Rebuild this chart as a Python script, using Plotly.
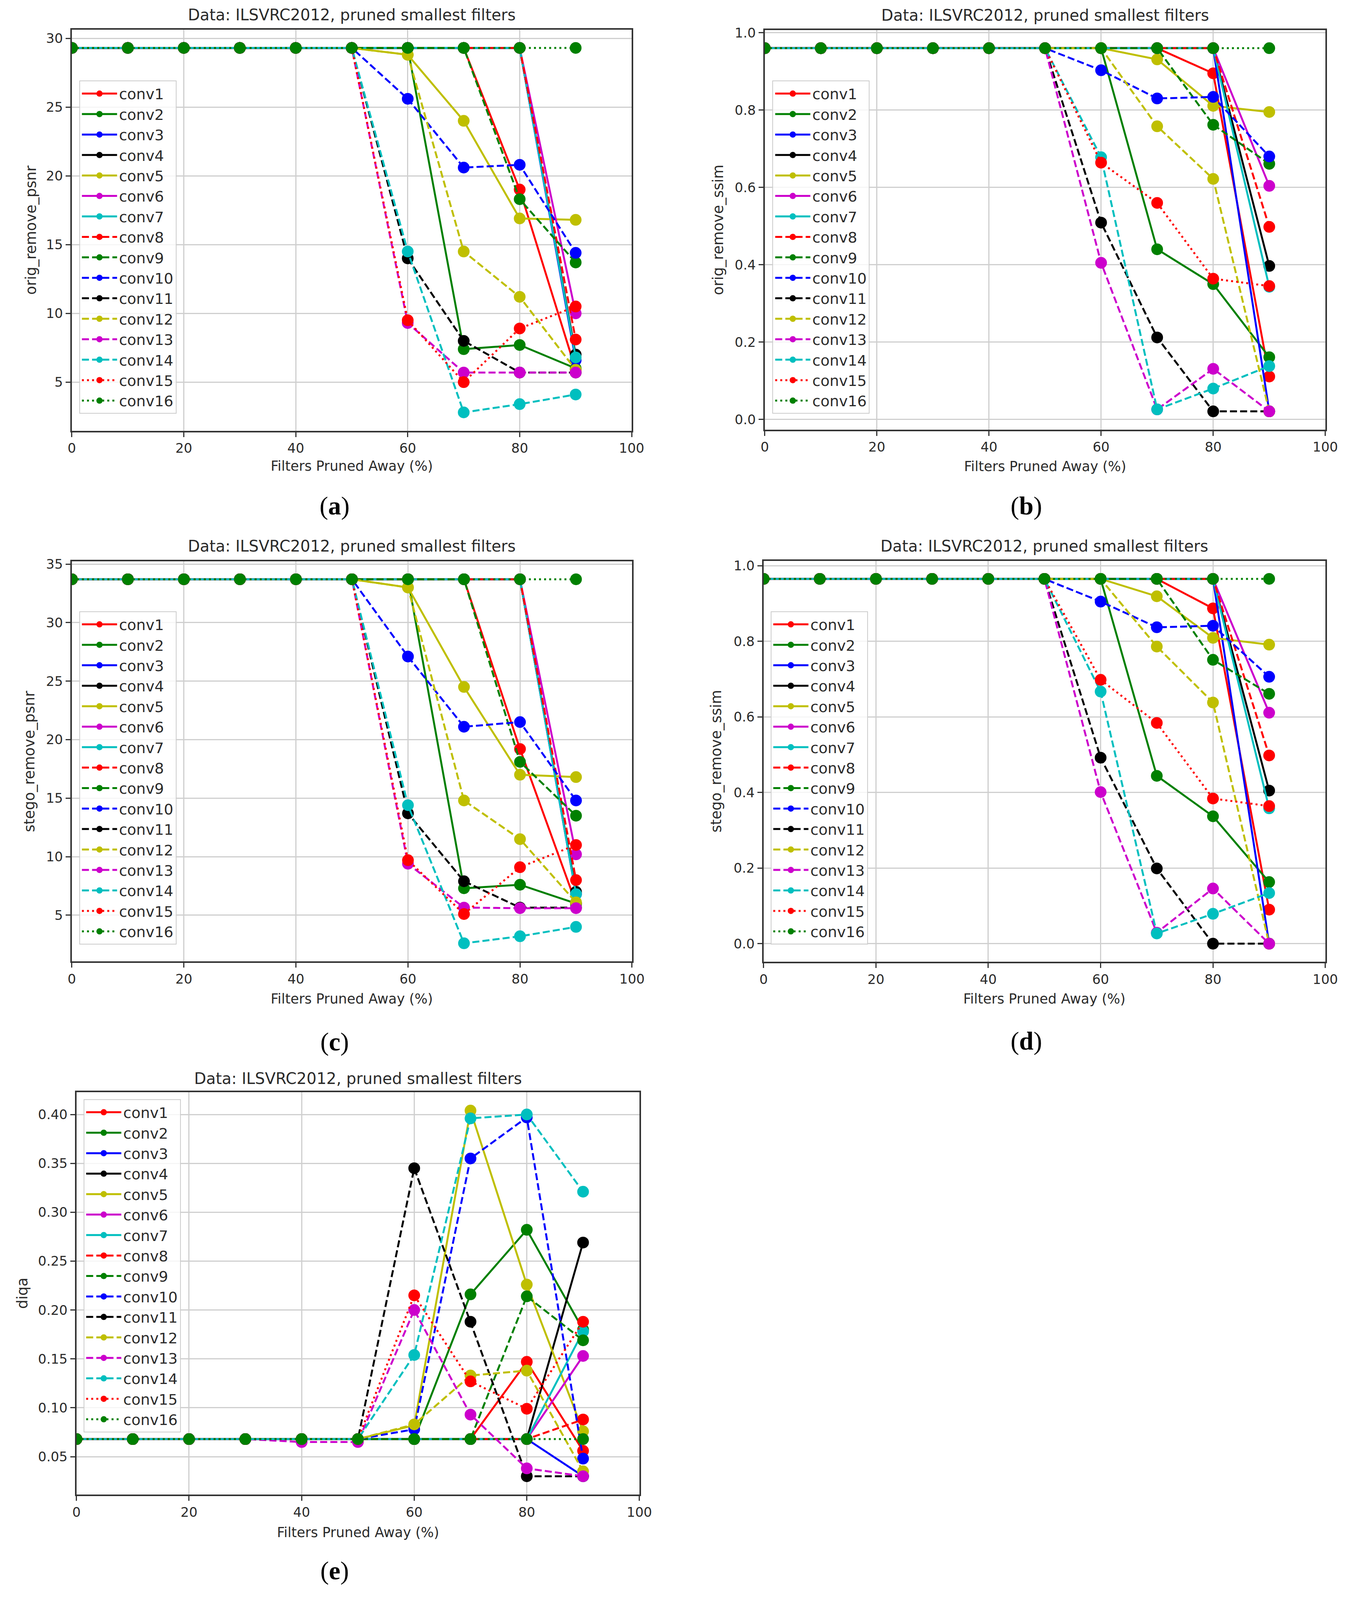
import plotly.graph_objects as go

# x positions: share of filters pruned away (%)
pruned = [0, 10, 20, 30, 40, 50, 60, 70, 80, 90]

layer_names = ["conv1", "conv2", "conv3", "conv4", "conv5", "conv6", "conv7", "conv8",
               "conv9", "conv10", "conv11", "conv12", "conv13", "conv14", "conv15", "conv16"]

# (a) orig_remove_psnr, one row per layer
orig_remove_psnr = [
    [29.3, 29.3, 29.3, 29.3, 29.3, 29.3, 29.3, 29.3, 19.0, 5.9],
    [29.3, 29.3, 29.3, 29.3, 29.3, 29.3, 29.3, 7.4, 7.7, 6.0],
    [29.3, 29.3, 29.3, 29.3, 29.3, 29.3, 29.3, 29.3, 29.3, 6.6],
    [29.3, 29.3, 29.3, 29.3, 29.3, 29.3, 29.3, 29.3, 29.3, 7.0],
    [29.3, 29.3, 29.3, 29.3, 29.3, 29.3, 28.8, 24.0, 16.9, 16.8],
    [29.3, 29.3, 29.3, 29.3, 29.3, 29.3, 29.3, 29.3, 29.3, 10.0],
    [29.3, 29.3, 29.3, 29.3, 29.3, 29.3, 29.3, 29.3, 29.3, 6.8],
    [29.3, 29.3, 29.3, 29.3, 29.3, 29.3, 29.3, 29.3, 29.3, 8.1],
    [29.3, 29.3, 29.3, 29.3, 29.3, 29.3, 29.3, 29.3, 18.3, 13.7],
    [29.3, 29.3, 29.3, 29.3, 29.3, 29.3, 25.6, 20.6, 20.8, 14.4],
    [29.3, 29.3, 29.3, 29.3, 29.3, 29.3, 14.0, 8.0, 5.7, 5.7],
    [29.3, 29.3, 29.3, 29.3, 29.3, 29.3, 28.8, 14.5, 11.2, 5.9],
    [29.3, 29.3, 29.3, 29.3, 29.3, 29.3, 9.3, 5.7, 5.7, 5.7],
    [29.3, 29.3, 29.3, 29.3, 29.3, 29.3, 14.5, 2.8, 3.4, 4.1],
    [29.3, 29.3, 29.3, 29.3, 29.3, 29.3, 9.5, 5.0, 8.9, 10.5],
    [29.3, 29.3, 29.3, 29.3, 29.3, 29.3, 29.3, 29.3, 29.3, 29.3],
]

# (b) orig_remove_ssim
orig_remove_ssim = [
    [0.96, 0.96, 0.96, 0.96, 0.96, 0.96, 0.96, 0.96, 0.895, 0.111],
    [0.96, 0.96, 0.96, 0.96, 0.96, 0.96, 0.96, 0.440, 0.350, 0.161],
    [0.96, 0.96, 0.96, 0.96, 0.96, 0.96, 0.96, 0.96, 0.96, 0.021],
    [0.96, 0.96, 0.96, 0.96, 0.96, 0.96, 0.96, 0.96, 0.96, 0.397],
    [0.96, 0.96, 0.96, 0.96, 0.96, 0.96, 0.96, 0.931, 0.811, 0.795],
    [0.96, 0.96, 0.96, 0.96, 0.96, 0.96, 0.96, 0.96, 0.96, 0.604],
    [0.96, 0.96, 0.96, 0.96, 0.96, 0.96, 0.96, 0.96, 0.96, 0.343],
    [0.96, 0.96, 0.96, 0.96, 0.96, 0.96, 0.96, 0.96, 0.96, 0.498],
    [0.96, 0.96, 0.96, 0.96, 0.96, 0.96, 0.96, 0.96, 0.762, 0.661],
    [0.96, 0.96, 0.96, 0.96, 0.96, 0.96, 0.903, 0.830, 0.834, 0.680],
    [0.96, 0.96, 0.96, 0.96, 0.96, 0.96, 0.509, 0.212, 0.021, 0.021],
    [0.96, 0.96, 0.96, 0.96, 0.96, 0.96, 0.96, 0.758, 0.622, 0.021],
    [0.96, 0.96, 0.96, 0.96, 0.96, 0.96, 0.405, 0.026, 0.131, 0.021],
    [0.96, 0.96, 0.96, 0.96, 0.96, 0.96, 0.678, 0.026, 0.080, 0.138],
    [0.96, 0.96, 0.96, 0.96, 0.96, 0.96, 0.664, 0.560, 0.364, 0.345],
    [0.96, 0.96, 0.96, 0.96, 0.96, 0.96, 0.96, 0.96, 0.96, 0.96],
]

# (c) stego_remove_psnr
stego_remove_psnr = [
    [33.7, 33.7, 33.7, 33.7, 33.7, 33.7, 33.7, 33.7, 19.2, 6.0],
    [33.7, 33.7, 33.7, 33.7, 33.7, 33.7, 33.7, 7.3, 7.6, 6.0],
    [33.7, 33.7, 33.7, 33.7, 33.7, 33.7, 33.7, 33.7, 33.7, 6.8],
    [33.7, 33.7, 33.7, 33.7, 33.7, 33.7, 33.7, 33.7, 33.7, 7.0],
    [33.7, 33.7, 33.7, 33.7, 33.7, 33.7, 33.0, 24.5, 17.0, 16.8],
    [33.7, 33.7, 33.7, 33.7, 33.7, 33.7, 33.7, 33.7, 33.7, 10.2],
    [33.7, 33.7, 33.7, 33.7, 33.7, 33.7, 33.7, 33.7, 33.7, 6.8],
    [33.7, 33.7, 33.7, 33.7, 33.7, 33.7, 33.7, 33.7, 33.7, 8.0],
    [33.7, 33.7, 33.7, 33.7, 33.7, 33.7, 33.7, 33.7, 18.1, 13.5],
    [33.7, 33.7, 33.7, 33.7, 33.7, 33.7, 27.1, 21.1, 21.5, 14.8],
    [33.7, 33.7, 33.7, 33.7, 33.7, 33.7, 13.7, 7.9, 5.65, 5.65],
    [33.7, 33.7, 33.7, 33.7, 33.7, 33.7, 33.0, 14.8, 11.5, 6.1],
    [33.7, 33.7, 33.7, 33.7, 33.7, 33.7, 9.4, 5.65, 5.6, 5.6],
    [33.7, 33.7, 33.7, 33.7, 33.7, 33.7, 14.4, 2.6, 3.2, 4.0],
    [33.7, 33.7, 33.7, 33.7, 33.7, 33.7, 9.7, 5.1, 9.1, 11.0],
    [33.7, 33.7, 33.7, 33.7, 33.7, 33.7, 33.7, 33.7, 33.7, 33.7],
]

# (d) stego_remove_ssim
stego_remove_ssim = [
    [0.965, 0.965, 0.965, 0.965, 0.965, 0.965, 0.965, 0.965, 0.887, 0.090],
    [0.965, 0.965, 0.965, 0.965, 0.965, 0.965, 0.965, 0.444, 0.337, 0.163],
    [0.965, 0.965, 0.965, 0.965, 0.965, 0.965, 0.965, 0.965, 0.965, 0.0],
    [0.965, 0.965, 0.965, 0.965, 0.965, 0.965, 0.965, 0.965, 0.965, 0.405],
    [0.965, 0.965, 0.965, 0.965, 0.965, 0.965, 0.965, 0.919, 0.809, 0.791],
    [0.965, 0.965, 0.965, 0.965, 0.965, 0.965, 0.965, 0.965, 0.965, 0.611],
    [0.965, 0.965, 0.965, 0.965, 0.965, 0.965, 0.965, 0.965, 0.965, 0.358],
    [0.965, 0.965, 0.965, 0.965, 0.965, 0.965, 0.965, 0.965, 0.965, 0.498],
    [0.965, 0.965, 0.965, 0.965, 0.965, 0.965, 0.965, 0.965, 0.751, 0.661],
    [0.965, 0.965, 0.965, 0.965, 0.965, 0.965, 0.905, 0.837, 0.841, 0.706],
    [0.965, 0.965, 0.965, 0.965, 0.965, 0.965, 0.492, 0.199, 0.0, 0.0],
    [0.965, 0.965, 0.965, 0.965, 0.965, 0.965, 0.965, 0.786, 0.638, 0.0],
    [0.965, 0.965, 0.965, 0.965, 0.965, 0.965, 0.401, 0.029, 0.146, 0.0],
    [0.965, 0.965, 0.965, 0.965, 0.965, 0.965, 0.667, 0.027, 0.079, 0.134],
    [0.965, 0.965, 0.965, 0.965, 0.965, 0.965, 0.698, 0.584, 0.384, 0.364],
    [0.965, 0.965, 0.965, 0.965, 0.965, 0.965, 0.965, 0.965, 0.965, 0.965],
]

# (e) diqa
diqa = [
    [0.068, 0.068, 0.068, 0.068, 0.068, 0.068, 0.068, 0.068, 0.147, 0.056],
    [0.068, 0.068, 0.068, 0.068, 0.068, 0.068, 0.068, 0.216, 0.282, 0.180],
    [0.068, 0.068, 0.068, 0.068, 0.068, 0.068, 0.068, 0.068, 0.068, 0.030],
    [0.068, 0.068, 0.068, 0.068, 0.068, 0.068, 0.068, 0.068, 0.068, 0.269],
    [0.068, 0.068, 0.068, 0.068, 0.068, 0.068, 0.082, 0.404, 0.226, 0.076],
    [0.068, 0.068, 0.068, 0.068, 0.068, 0.068, 0.068, 0.068, 0.068, 0.153],
    [0.068, 0.068, 0.068, 0.068, 0.068, 0.068, 0.068, 0.068, 0.068, 0.178],
    [0.068, 0.068, 0.068, 0.068, 0.068, 0.068, 0.068, 0.068, 0.068, 0.088],
    [0.068, 0.068, 0.068, 0.068, 0.068, 0.068, 0.068, 0.068, 0.214, 0.169],
    [0.068, 0.068, 0.068, 0.068, 0.068, 0.068, 0.078, 0.355, 0.397, 0.048],
    [0.068, 0.068, 0.068, 0.068, 0.068, 0.068, 0.345, 0.188, 0.030, 0.030],
    [0.068, 0.068, 0.068, 0.068, 0.068, 0.068, 0.083, 0.133, 0.138, 0.035],
    [0.068, 0.068, 0.068, 0.068, 0.065, 0.065, 0.200, 0.093, 0.038, 0.030],
    [0.068, 0.068, 0.068, 0.068, 0.068, 0.068, 0.154, 0.396, 0.400, 0.321],
    [0.068, 0.068, 0.068, 0.068, 0.068, 0.068, 0.215, 0.127, 0.099, 0.188],
    [0.068, 0.068, 0.068, 0.068, 0.068, 0.068, 0.068, 0.068, 0.068, 0.068],
]

# matplotlib style colour cycle r g b k y m c, then dashes / dots
base_colors = ["#ff0000", "#008000", "#0000ff", "#000000", "#bfbf00", "#cc00cc", "#00bfbf"]
colors = [base_colors[i % 7] for i in range(16)]
dashes = ["solid"] * 7 + ["18px,8px"] * 7 + ["5px,8px"] * 2

W, H = 3479, 4115
DY = 22  # page renders a little lower than the reference, pull everything up
FONT = "DejaVu Sans"
title_text = "Data: ILSVRC2012, pruned smallest filters"

# box = (left, right, top, bottom) in pixels
panels = [
    dict(vals=orig_remove_psnr, ylabel="orig_remove_psnr", box=(167, 1618, 77, 1107),
         yr=[1.47, 30.63], dtick=5, tick0=5, fmt="", leg=(186, 208), letter="a",
         letter_pos=(848, 1300), title_y=39, xlab_y=1198, ylab_x=61),
    dict(vals=orig_remove_ssim, ylabel="orig_remove_ssim", box=(1963, 3416, 78, 1104),
         yr=[-0.026, 1.007], dtick=0.2, tick0=0, fmt=".1f", leg=(1983, 208), letter="b",
         letter_pos=(2641, 1300), title_y=40, xlab_y=1199, ylab_x=1842),
    dict(vals=stego_remove_psnr, ylabel="stego_remove_psnr", box=(167, 1619, 1442, 2470),
         yr=[1.05, 35.25], dtick=5, tick0=5, fmt="", leg=(186, 1571), letter="c",
         letter_pos=(848, 2676), title_y=1403, xlab_y=2566, ylab_x=58),
    dict(vals=stego_remove_ssim, ylabel="stego_remove_ssim", box=(1960, 3416, 1441, 2471),
         yr=[-0.048, 1.013], dtick=0.2, tick0=0, fmt=".1f", leg=(1978, 1571), letter="d",
         letter_pos=(2641, 2674), title_y=1403, xlab_y=2566, ylab_x=1838),
    dict(vals=diqa, ylabel="diqa", box=(179, 1638, 2806, 3839),
         yr=[0.0113, 0.4227], dtick=0.05, tick0=0.05, fmt=".2f", leg=(197, 2824), letter="e",
         letter_pos=(848, 4035), title_y=2771, xlab_y=3936, ylab_x=39),
]

fig = go.Figure()
annotations = []
layout_axes = {}


def py(v):
    # pixel row -> paper fraction
    return 1 - (v - DY) / H


for p_i, p in enumerate(panels):
    n = "" if p_i == 0 else str(p_i + 1)
    left, right, top, bottom = p["box"]
    for k in range(16):
        fig.add_trace(go.Scatter(
            x=pruned, y=p["vals"][k], name=layer_names[k], mode="lines+markers",
            line=dict(color=colors[k], width=5, dash=dashes[k]),
            marker=dict(color=colors[k], size=30),
            xaxis="x" + n, yaxis="y" + n, legend="legend" + n,
        ))

    common = dict(showline=True, mirror=True, linecolor="#333333", linewidth=4,
                  showgrid=True, gridcolor="#cfcfcf", gridwidth=3, zeroline=False,
                  ticks="outside", ticklen=12, tickwidth=3, tickcolor="#333333",
                  tickfont=dict(family=FONT, size=34, color="#2a2a2a"))
    layout_axes["xaxis" + n] = dict(common, domain=[left / W, right / W], range=[0, 100],
                                    tick0=0, dtick=20, anchor="y" + n)
    layout_axes["yaxis" + n] = dict(common, domain=[py(bottom), py(top)], range=p["yr"],
                                    tick0=p["tick0"], dtick=p["dtick"], tickformat=p["fmt"],
                                    anchor="x" + n)
    layout_axes["legend" + n] = dict(
        x=p["leg"][0] / W, y=py(p["leg"][1]), xanchor="left", yanchor="top",
        bgcolor="rgba(255,255,255,0.8)", bordercolor="#cccccc", borderwidth=2,
        font=dict(family=FONT, size=38, color="#2a2a2a"), itemwidth=90,
    )

    cx = (left + right) / 2 / W
    annotations.append(dict(text=title_text, x=cx, y=py(p["title_y"]), xref="paper", yref="paper",
                            showarrow=False, xanchor="center", yanchor="middle",
                            font=dict(family=FONT, size=40, color="#2a2a2a")))
    annotations.append(dict(text="Filters Pruned Away (%)", x=cx, y=py(p["xlab_y"]),
                            xref="paper", yref="paper", showarrow=False,
                            xanchor="center", yanchor="middle",
                            font=dict(family=FONT, size=35, color="#2a2a2a")))
    annotations.append(dict(text=p["ylabel"], x=p["ylab_x"] / W, y=py((top + bottom) / 2),
                            xref="paper", yref="paper", showarrow=False, textangle=-90,
                            xanchor="center", yanchor="middle",
                            font=dict(family=FONT, size=37, color="#2a2a2a")))
    annotations.append(dict(text="(<b>" + p["letter"] + "</b>)", x=p["letter_pos"][0] / W,
                            y=py(p["letter_pos"][1]), xref="paper", yref="paper",
                            showarrow=False, xanchor="center", yanchor="middle",
                            font=dict(family="Liberation Serif", size=66, color="#000000")))

fig.update_layout(
    width=W, height=H,
    margin=dict(l=0, r=0, t=0, b=0),
    paper_bgcolor="white", plot_bgcolor="white",
    showlegend=True,
    annotations=annotations,
    **layout_axes,
)

fig.write_html("out.html")
